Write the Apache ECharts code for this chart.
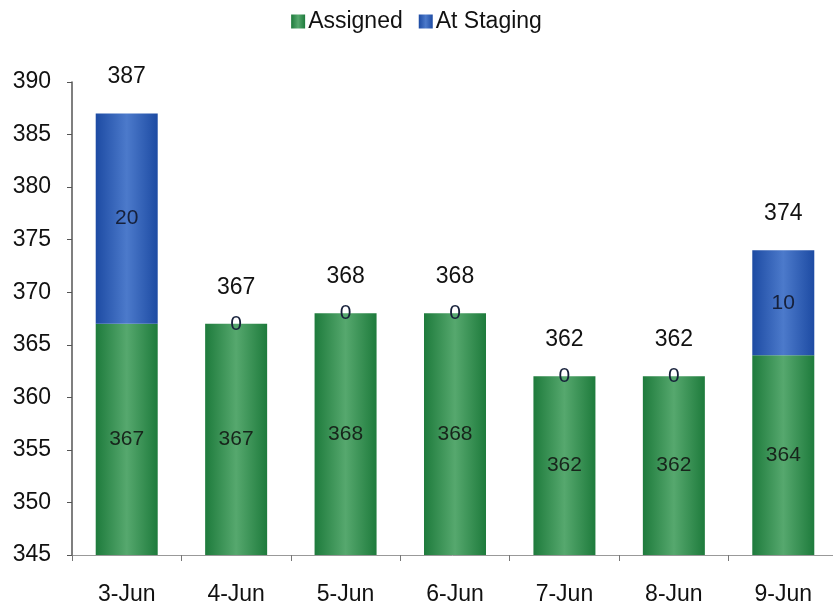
<!DOCTYPE html>
<html>
<head>
<meta charset="utf-8">
<script src="https://cdn.jsdelivr.net/npm/echarts@6/dist/echarts.min.js"></script>
<style>
  html, body { margin: 0; padding: 0; background: #fff; }
  #chart { width: 833px; height: 606px; }
</style>
</head>
<body>
<div id="chart"></div>
<script>
// data
const days = ["3-Jun", "4-Jun", "5-Jun", "6-Jun", "7-Jun", "8-Jun", "9-Jun"];
const assigned = [367, 367, 368, 368, 362, 362, 364];
const atStaging = [20, 0, 0, 0, 0, 0, 10];
const totals = [387, 367, 368, 368, 362, 362, 374];

const myChart = echarts.init(document.getElementById("chart"));
const font = "'Liberation Sans', Arial, sans-serif";

// horizontal shading on the bars
const shade = (edge, mid) =>
  new echarts.graphic.LinearGradient(0, 0, 1, 0, [
    { offset: 0, color: edge },
    { offset: 0.5, color: mid },
    { offset: 1, color: edge },
  ]);

const options = {
  textStyle: { fontFamily: font },
  legend: {
    data: ["Assigned", "At Staging"],
    top: 5,
    left: "center",
    itemWidth: 14,
    itemHeight: 14,
    itemGap: 16,
    icon: "rect",
    textStyle: { fontSize: 23, color: "#111", fontFamily: font, padding: [0, 0, 0, -2] },
  },
  grid: { top: 82, bottom: 51, left: 72, right: -5, outerBoundsMode: "none" },
  xAxis: {
    type: "category",
    data: days,
    axisLine: { show: true, lineStyle: { color: "#999", width: 1 } },
    axisTick: { show: true, length: 6, lineStyle: { color: "#777" } },
    axisLabel: { color: "#111", fontSize: 23, margin: 28, fontFamily: font },
  },
  yAxis: {
    type: "value",
    min: 345,
    max: 390,
    interval: 5,
    axisLine: { show: true, lineStyle: { color: "#555", width: 1.5 } },
    axisTick: { show: true, inside: false, length: 5, lineStyle: { color: "#555" } },
    axisLabel: { color: "#111", fontSize: 23, margin: 21, fontFamily: font },
    splitLine: { show: false },
  },
  series: [
    {
      name: "Assigned",
      type: "bar",
      stack: "all",
      data: assigned,
      barWidth: 62,
      itemStyle: { color: shade("#1e7b3c", "#56a86e") },
      label: {
        show: true,
        position: "inside",
        color: "#17251b",
        fontSize: 21,
        fontFamily: font,
      },
    },
    {
      name: "At Staging",
      type: "bar",
      stack: "all",
      data: atStaging,
      barWidth: 62,
      itemStyle: { color: shade("#1d4ba3", "#4c7acb") },
      label: {
        show: true,
        position: "inside",
        color: "#16203a",
        fontSize: 21,
        fontFamily: font,
      },
    },
    {
      name: "Total",
      type: "bar",
      stack: "all",
      data: days.map(() => 0),
      barWidth: 62,
      itemStyle: { color: "transparent" },
      label: {
        show: true,
        position: "top",
        distance: 25,
        color: "#111",
        fontSize: 23,
        fontFamily: font,
        formatter: (p) => String(totals[p.dataIndex]),
      },
      silent: true,
    },
  ],
};

myChart.setOption(options);
</script>
</body>
</html>
